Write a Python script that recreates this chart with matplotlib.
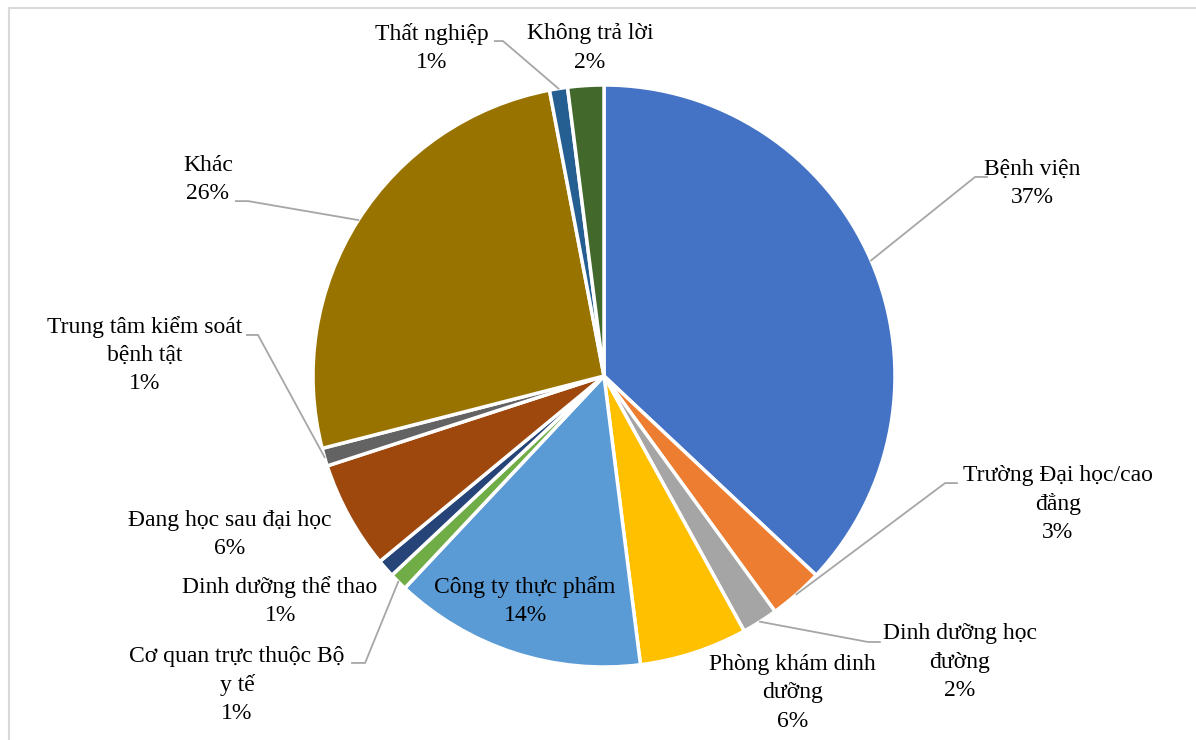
import numpy as np
import matplotlib
matplotlib.use('Agg')
import matplotlib.pyplot as plt
from matplotlib.patches import Rectangle

# ---------- data ----------
categories = ['Bệnh viện', 'Trường Đại học/cao\nđẳng', 'Dinh dưỡng học\nđường',
              'Phòng khám dinh\ndưỡng', 'Công ty thực phẩm', 'Cơ quan trực thuộc Bộ\ny tế',
              'Dinh dưỡng thể thao', 'Đang học sau đại học', 'Trung tâm kiểm soát\nbệnh tật',
              'Khác', 'Thất nghiệp', 'Không trả lời']
percent = [37, 3, 2, 6, 14, 1, 1, 6, 1, 26, 1, 2]
colors = ['#4472C4', '#ED7D31', '#A5A5A5', '#FFC000', '#5B9BD5', '#70AD47',
          '#264478', '#9E480E', '#636363', '#997300', '#255E91', '#43682B']

# ---------- label layout (data coords, pie radius = 1) ----------
label_xy = [(1.471, 0.663), (1.560, -0.440), (1.223, -0.983), (0.649, -1.089),
            (-0.271, -0.773), (-1.261, -1.062), (-1.113, -0.773), (-1.285, -0.546),
            (-1.577, 0.072), (-1.361, 0.674), (-0.591, 1.127), (-0.048, 1.127)]
# leader line: elbow point and end point
leaders = {0: ((1.275, 0.684), (1.316, 0.684)),
           1: ((1.172, -0.368), (1.213, -0.368)),
           2: ((0.907, -0.914), (0.948, -0.914)),
           5: ((-0.821, -0.986), (-0.866, -0.986)),
           8: ((-1.189, 0.141), (-1.227, 0.141)),
           9: ((-1.223, 0.601), (-1.265, 0.601)),
           10: ((-0.347, 1.151), (-0.375, 1.151))}

W, H = 1196, 740
fig = plt.figure(figsize=(W / 100, H / 100), dpi=100)
fig.patches.append(Rectangle((9 / W, -0.1), 1.2, 1 - 8 / H + 0.1,
                             transform=fig.transFigure, fill=False,
                             edgecolor='#D9D9D9', linewidth=1.5))

cx, cy, R = 604, 376, 291
ax = fig.add_axes([(cx - R) / W, (H - cy - R) / H, 2 * R / W, 2 * R / H])
wedges, _ = ax.pie(percent, colors=colors, startangle=90, counterclock=False,
                   radius=1, wedgeprops=dict(edgecolor='white', linewidth=2.5))
ax.set_xlim(-1, 1)
ax.set_ylim(-1, 1)
ax.set_aspect('equal')
ax.axis('off')

for i, w in enumerate(wedges):
    txt = categories[i] + '\n' + str(percent[i]) + '%'
    x, y = label_xy[i]
    ax.text(x, y, txt, ha='center', va='center', multialignment='center',
            fontsize=17, linespacing=1.45, family='Liberation Serif',
            color='black', clip_on=False)
    if i in leaders:
        mid = np.deg2rad((w.theta1 + w.theta2) / 2)
        sx, sy = np.cos(mid), np.sin(mid)
        (ex, ey), (tx, ty) = leaders[i]
        ax.plot([sx, ex, tx], [sy, ey, ty], color='#A6A6A6', lw=1.3,
                clip_on=False, zorder=5)

fig.savefig('out.png', dpi=100)
